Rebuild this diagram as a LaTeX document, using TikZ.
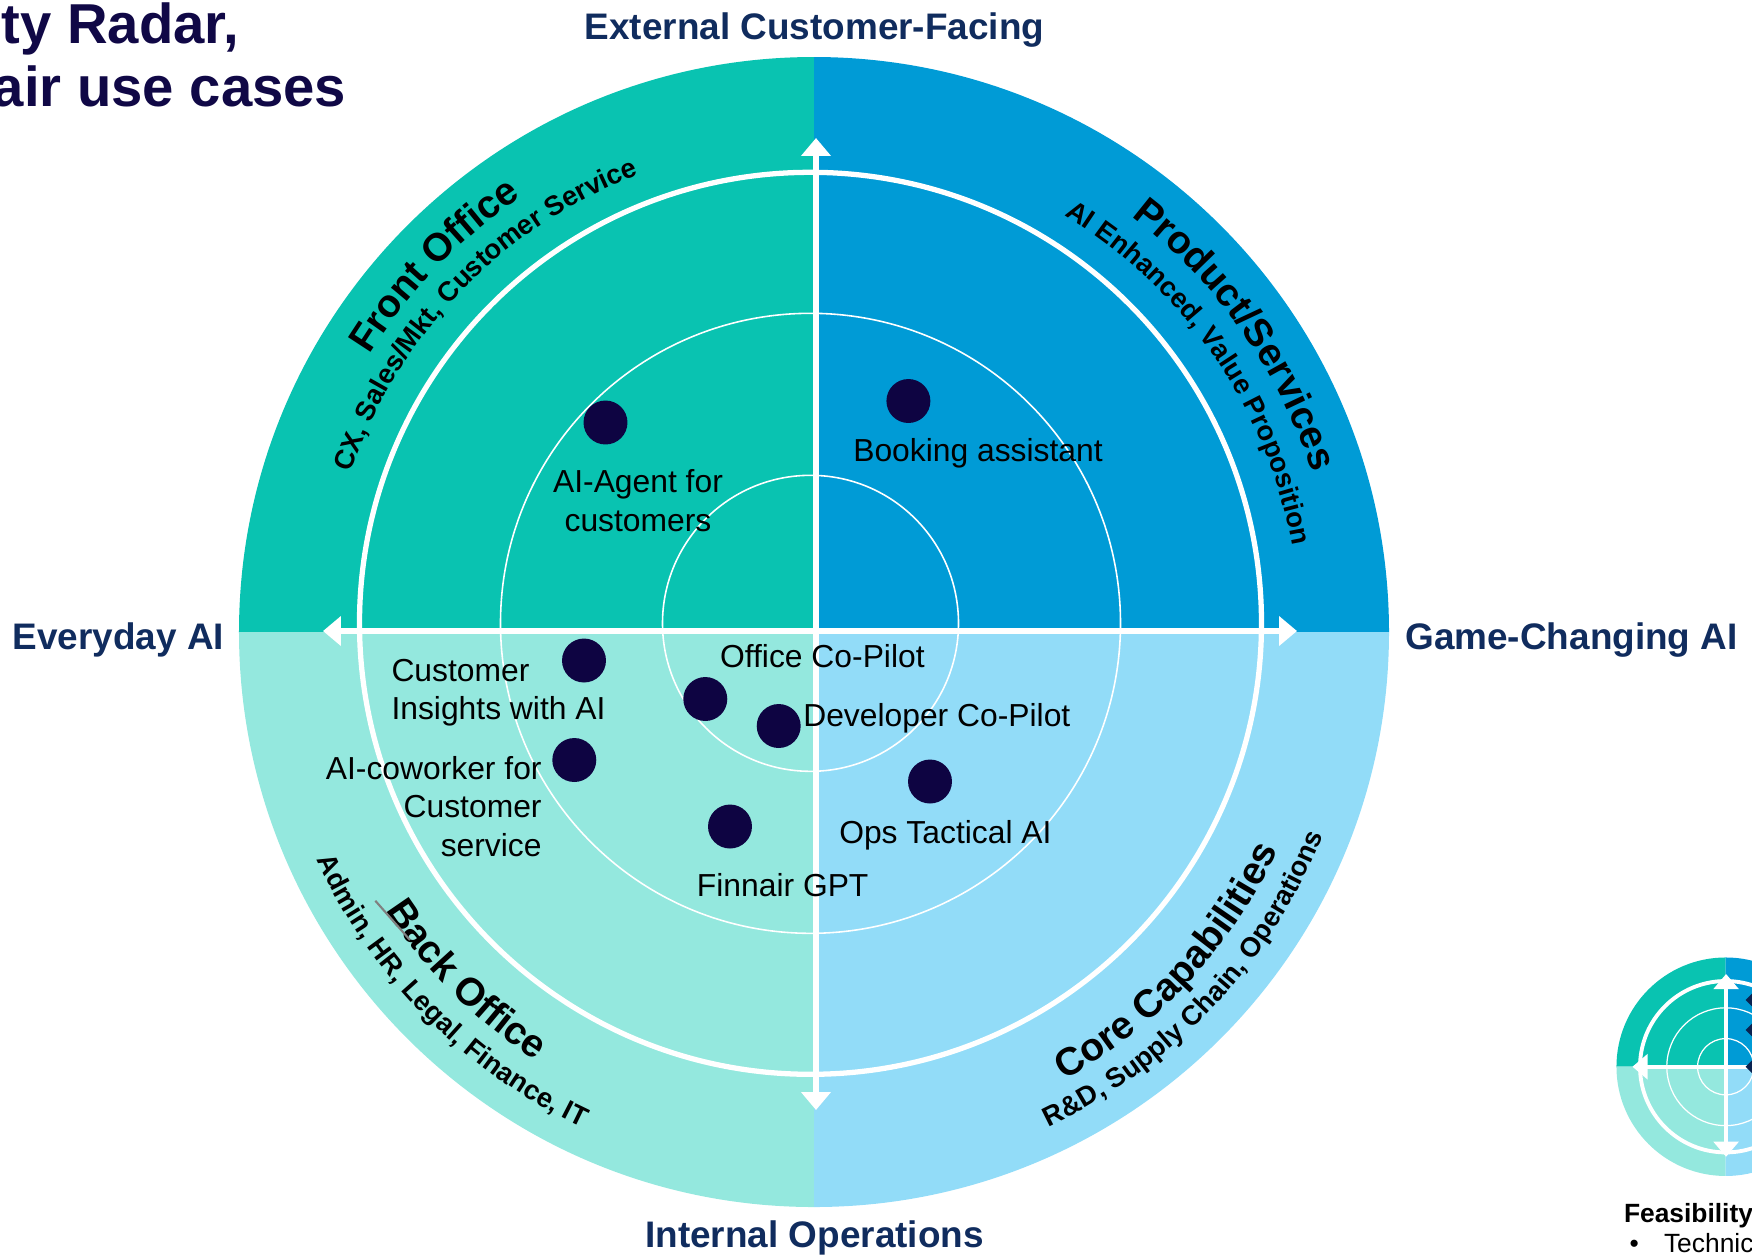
\documentclass[tikz,border=0pt]{standalone}
\usepackage{fontspec}
\setmainfont{Liberation Sans}
\usetikzlibrary{arrows.meta,decorations.text,shapes.geometric}

\definecolor{qtl}{RGB}{9,195,177}
\definecolor{qtr}{RGB}{0,155,214}
\definecolor{qbl}{RGB}{148,232,222}
\definecolor{qbr}{RGB}{146,220,248}
\definecolor{usenavy}{RGB}{14,4,66}
\definecolor{axisblue}{RGB}{16,44,94}
\definecolor{titlenavy}{RGB}{16,8,70}
\definecolor{marknavy}{RGB}{10,35,80}

\newcommand{\qtitle}{\fontsize{11.1}{13}\selectfont\bfseries}
\newcommand{\qsub}{\fontsize{7.8}{9.5}\selectfont\bfseries}

\begin{document}
\begin{tikzpicture}[x=0.01cm,y=0.01cm,
    usecase/.style={font=\fontsize{9.05}{10.95}\selectfont, inner sep=0pt},
    usedot/.style={circle, fill=usenavy, minimum size=12.5pt, inner sep=0pt},
    axislabel/.style={font=\fontsize{10.5}{12.6}\selectfont\bfseries, text=axisblue, inner sep=0pt},
    ringthick/.style={white, line width=1.5pt},
    ringthin/.style={white, line width=0.45pt},
    axisline/.style={white, line width=1.8pt, {Triangle[width=8.2pt,length=5.1pt]}-{Triangle[width=8.2pt,length=5.1pt]}}]

    \useasboundingbox (-814,-624) rectangle (938,632);

    % Quadrants
    \foreach \a/\c in {90/qtl, 0/qtr, 180/qbl, 270/qbr}
        \fill [\c] (0,0) -- (\a:575) arc [start angle=\a, delta angle=90, radius=575] -- cycle;

    % Rings
    \draw [ringthin] (-3.5,8.7) circle [radius=148];
    \draw [ringthin] (-3.5,8.7) circle [radius=310];
    \draw [ringthick] (-3.5,8.7) circle [radius=451];

    % Axis
    \coordinate (W) at (-491,1);
    \coordinate (E) at (483,1);
    \coordinate (N) at (2,494);
    \coordinate (S) at (2,-478);
    \draw [axisline] (W) -- (E);
    \draw [axisline] (S) -- (N);

    \node [axislabel] (ext) at (0.5,601.6) {External Customer-Facing};
    \node [axislabel] (every) at (-695.5,-8.4) {Everyday AI};
    \node [axislabel] (game) at (757.5,-8.4) {Game-Changing AI};
    \node [axislabel] (int) at (0.5,-606) {Internal Operations};

    % Quadrant names
    \path [decorate, decoration={text along path, text align=center, text={|\qtitle|Front Office}}]
        (186:524) arc [start angle=186, end angle=86, radius=524];
    \path [decorate, decoration={text along path, text align=center, text={|\qsub|CX, Sales/Mkt, Customer Service}}]
        (186:490) arc [start angle=186, end angle=86, radius=490];
    \path [decorate, decoration={text along path, text align=center, text={|\qtitle|Product/Services}}]
        (85.2:523) arc [start angle=85.2, end angle=-14.8, radius=523];
    \path [decorate, decoration={text along path, text align=center, text={|\qsub|AI Enhanced, Value Proposition}}]
        (84.6:486) arc [start angle=84.6, end angle=-15.4, radius=486];
    \path [decorate, decoration={text along path, text align=center, text={|\qtitle|Back Office}}]
        (175:511) arc [start angle=175, end angle=275, radius=511];
    \path [decorate, decoration={text along path, text align=center, text={|\qsub|Admin, HR, Legal, Finance, IT}}]
        (174.8:547) arc [start angle=174.8, end angle=274.8, radius=547];
    \path [decorate, decoration={text along path, text align=center, text={|\qtitle|Core Capabilities}}]
        (267:513) arc [start angle=267, end angle=367, radius=513];
    \path [decorate, decoration={text along path, text align=center, text={|\qsub|R{\&}D, Supply Chain, Operations}}]
        (266.8:548) arc [start angle=266.8, end angle=366.8, radius=548];
    \draw [gray, line width=0.6pt] (-438.7,-268.7) -- (-404,-308);

    % Use cases
    \node [usedot] (agent) at (-208.5,209.5) {};
    \node [usedot] (booking) at (94.4,231) {};
    \node [usedot] (insights) at (-230,-28.5) {};
    \node [usedot] (office) at (-108.7,-67) {};
    \node [usedot] (developer) at (-35.3,-94) {};
    \node [usedot] (coworker) at (-239.7,-128) {};
    \node [usedot] (ops) at (116,-149.5) {};
    \node [usedot] (finnair) at (-84,-194.5) {};

    \node [usecase, align=center] (agentlbl) at (-176,131.4) {AI-Agent for\\customers};
    \node [usecase] (bookinglbl) at (164,178.6) {Booking assistant};
    \node [usecase, align=left, anchor=west] (insightslbl) at (-423.2,-60.9) {Customer\\Insights with AI};
    \node [usecase, anchor=west] (officelbl) at (-94.6,-24) {Office Co-Pilot};
    \node [usecase, anchor=west] (developerlbl) at (-11.4,-86.4) {Developer Co-Pilot};
    \node [usecase, align=right, anchor=east] (coworkerlbl) at (-271.7,-174.4) {AI-coworker for\\Customer\\service};
    \node [usecase] (opslbl) at (131.4,-203.5) {Ops Tactical AI};
    \node [usecase] (finnairlbl) at (-31.3,-253) {Finnair GPT};

    % Title
    \node [anchor=base east, inner sep=0pt, text=titlenavy, font=\fontsize{16}{19}\selectfont\bfseries] (title1) at (-574,588.7) {ty Radar,};
    \node [anchor=base east, inner sep=0pt, text=titlenavy, font=\fontsize{16}{19}\selectfont\bfseries] (title2) at (-467,525.3) {air use cases};

    % Legend radar
    \begin{scope}[shift={(911.7,-434.7)}, scale=0.19]
        \foreach \a/\c in {90/qtl, 0/qtr, 180/qbl, 270/qbr}
            \fill [\c] (0,0) -- (\a:575) arc [start angle=\a, delta angle=90, radius=575] -- cycle;
        \draw [white, line width=0.35pt] (0,0) circle [radius=148];
        \draw [white, line width=0.35pt] (0,0) circle [radius=310];
        \draw [white, line width=1.1pt] (0,0) circle [radius=451];
        \coordinate (mW) at (-491,0);
        \coordinate (mE) at (491,0);
        \coordinate (mN) at (2,488);
        \coordinate (mS) at (2,-474);
        \draw [white, line width=1.1pt, {Triangle[width=7pt,length=4.3pt]}-{Triangle[width=7pt,length=4.3pt]}] (mW) -- (mE);
        \draw [white, line width=1.1pt, {Triangle[width=7pt,length=4.3pt]}-{Triangle[width=7pt,length=4.3pt]}] (mS) -- (mN);
    \end{scope}
    \node [diamond, fill=marknavy, minimum size=5.1pt, inner sep=0pt] (mark1) at (940.3,-368) {};
    \node [diamond, fill=marknavy, minimum size=5.1pt, inner sep=0pt] (mark2) at (940.3,-398) {};
    \node [diamond, fill=marknavy, minimum size=5.1pt, inner sep=0pt] (mark3) at (940.3,-434.7) {};

    \node [anchor=base west, inner sep=0pt, font=\fontsize{7.5}{9}\selectfont\bfseries] (feas) at (809.3,-590.7) {Feasibility};
    \node [anchor=base west, inner sep=0pt, font=\fontsize{7.5}{9}\selectfont] (bullet) at (815,-620) {•};
    \node [anchor=base west, inner sep=0pt, font=\fontsize{7.5}{9}\selectfont] (tech) at (849.3,-620) {Technic};
\end{tikzpicture}
\end{document}
